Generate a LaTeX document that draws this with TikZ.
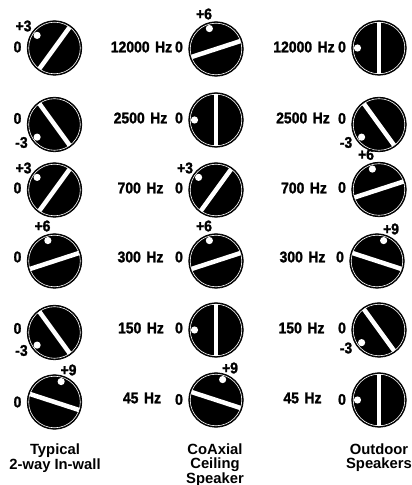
\documentclass[tikz,border=0pt]{standalone}
\usepackage{fontspec}
\setmainfont{Liberation Sans}
\newfontfamily\heavy{Liberation Sans Bold}[FakeBold=1.5, FakeStretch=0.9]
\usetikzlibrary{calc}
\newcommand\knob[5]{% name, x, y, pointer angle, dy of 0 label
  \node[knobbody] (#1) at (#2,#3) {};
  \draw[white, line width=0.6pt] (#1.center) circle (25.8);
  \draw[white, line width=4.5pt] ($(#1.center)+(#4-90:25.6)$) -- ($(#1.center)+(#4+90:25.6)$);
  \fill[white] ($(#1.center)+(#4:21.5)$) circle (3.6);
  \node[val] (#1z) at ($(#1.center)+(-37,#5)$) {0};
}
\newcommand\hz[1]{#1\hspace{5.5pt}Hz}
\begin{document}
\begin{tikzpicture}[x=1pt,y=1pt,
  knobbody/.style={circle, fill=black, draw=black, line width=0.8pt, minimum size=54.5pt, inner sep=0pt},
  val/.style={font=\fontsize{15.5}{15.5}\heavy, inner sep=0pt},
  freq/.style={font=\fontsize{15.5}{15.5}\heavy, inner sep=0pt},
  captext/.style={font=\fontsize{14.8}{13.5}\selectfont\bfseries, align=center, inner sep=0pt, anchor=north}]
\useasboundingbox (0,0) rectangle (412,485);
% column 1
\knob{k11}{54.5}{437}{144}{1}
\knob{k12}{54.5}{360.5}{216}{6}
\knob{k13}{54.5}{295}{144}{2}
\knob{k14}{54.5}{224}{108}{4}
\knob{k15}{54.5}{152.5}{216}{4}
\knob{k16}{54.5}{83}{72}{0}
\node[val] (l11) at ($(k11.center)+(-31,22)$) {+3};
\node[val] (l12) at ($(k12.center)+(-33,-18)$) {-3};
\node[val] (l13) at ($(k13.center)+(-31,22)$) {+3};
\node[val] (l14) at ($(k14.center)+(-12,35)$) {+6};
\node[val] (l15) at ($(k15.center)+(-33,-18)$) {-3};
\node[val] (l16) at ($(k16.center)+(14,32)$) {+9};
% column 2
\knob{k21}{216}{436}{108}{2}
\knob{k22}{216}{365}{180}{2}
\knob{k23}{216}{295}{144}{2}
\knob{k24}{216}{224}{108}{4}
\knob{k25}{216}{155}{180}{2}
\knob{k26}{216}{85}{72}{0.5}
\node[val] (l21) at ($(k21.center)+(-12,35)$) {+6};
\node[val] (l23) at ($(k23.center)+(-31,22)$) {+3};
\node[val] (l24) at ($(k24.center)+(-12,35)$) {+6};
\node[val] (l26) at ($(k26.center)+(14,32)$) {+9};
% column 3
\knob{k31}{379}{437}{180}{1}
\knob{k32}{379}{360.5}{216}{6}
\knob{k33}{379}{295.5}{108}{2}
\knob{k34}{377}{224}{72}{4}
\knob{k35}{379}{155}{216}{2}
\knob{k36}{379}{85}{180}{0.5}
\node[val] (l32) at ($(k32.center)+(-33,-18)$) {-3};
\node[val] (l33) at ($(k33.center)+(-13,35)$) {+6};
\node[val] (l34) at ($(k34.center)+(14,32)$) {+9};
\node[val] (l35) at ($(k35.center)+(-33,-18)$) {-3};
% frequency labels
\node[freq] (f21) at (141.5,438) {\hz{12000}};
\node[freq] (f22) at (140.5,367) {\hz{2500}};
\node[freq] (f23) at (140.5,297) {\hz{700}};
\node[freq] (f24) at (140.5,228) {\hz{300}};
\node[freq] (f25) at (141,157) {\hz{150}};
\node[freq] (f26) at (142,87) {\hz{45}};
\node[freq] (f31) at (304,438) {\hz{12000}};
\node[freq] (f32) at (303,367) {\hz{2500}};
\node[freq] (f33) at (304,297) {\hz{700}};
\node[freq] (f34) at (302.5,228) {\hz{300}};
\node[freq] (f35) at (301.5,157) {\hz{150}};
\node[freq] (f36) at (302.5,87) {\hz{45}};
% captions
\node[captext] (c1) at (55,41) {Typical\\2-way In-wall};
\node[captext] (c2) at (215,41) {CoAxial\\Ceiling\\Speaker};
\node[captext] (c3) at (379,41) {Outdoor\\Speakers};
\end{tikzpicture}
\end{document}
